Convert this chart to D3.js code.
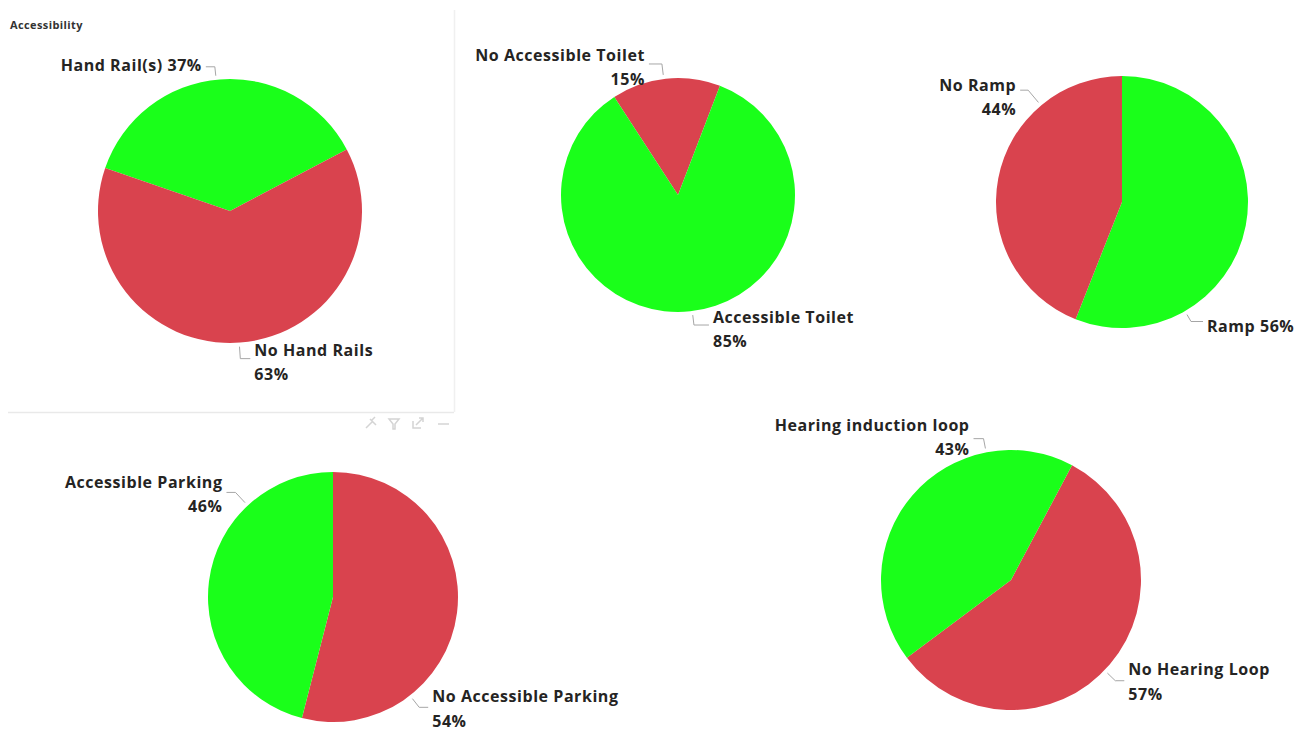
<!DOCTYPE html>
<html>
<head>
<meta charset="utf-8">
<script src="https://cdn.jsdelivr.net/npm/d3@7"></script>
<style>
  html, body { margin: 0; padding: 0; background: #ffffff; }
  svg { display: block; }
</style>
</head>
<body>
<svg id="chart" width="1303" height="733"></svg>
<script>
// ---------- DATA ----------
const handRailCategories = ["Hand Rail(s)", "No Hand Rails"];
const handRailValues = [37, 63];

const toiletCategories = ["No Accessible Toilet", "Accessible Toilet"];
const toiletValues = [15, 85];

const rampCategories = ["Ramp", "No Ramp"];
const rampValues = [56, 44];

const parkingCategories = ["No Accessible Parking", "Accessible Parking"];
const parkingValues = [54, 46];

const hearingCategories = ["No Hearing Loop", "Hearing induction loop"];
const hearingValues = [57, 43];

const chartTitle = "Accessibility";

// ---------- STYLE / LAYOUT ----------
const GREEN = "#1aff1a";
const RED = "#d9434e";
const TEXT = "#252423";
const LEADER = "#a6a6a6";
const FONT = "'Open Sans', 'Noto Sans', sans-serif";
const FS = 16;
const LS = 0.55;
const LINE_H = 24.5;

// colour per category
const colorOf = {
  "Hand Rail(s)": GREEN, "No Hand Rails": RED,
  "No Accessible Toilet": RED, "Accessible Toilet": GREEN,
  "Ramp": GREEN, "No Ramp": RED,
  "No Accessible Parking": RED, "Accessible Parking": GREEN,
  "No Hearing Loop": RED, "Hearing induction loop": GREEN
};

// layout per pie: centre, radius, start angle (deg), label leaders
// label: angle (deg, clockwise from top), ext radial segment, h horizontal, side, oneLine, dy
const pies = [
  { cats: handRailCategories, vals: handRailValues, cx: 230, cy: 211, r: 132, start: -71,
    labels: {
      "Hand Rail(s)": { angle: -6, ext: 9, h: 9, side: -1, oneLine: true, dy: -1 },
      "No Hand Rails": { angle: 176, ext: 12, h: 10, side: 1, oneLine: false, dy: 4 }
    } },
  { cats: toiletCategories, vals: toiletValues, cx: 678, cy: 195, r: 117, start: -33,
    labels: {
      "No Accessible Toilet": { angle: -7, ext: 11, h: 13, side: -1, oneLine: false, dy: 3.5 },
      "Accessible Toilet": { angle: 173, ext: 10, h: 15, side: 1, oneLine: false, dy: 4.5 }
    } },
  { cats: rampCategories, vals: rampValues, cx: 1122, cy: 202, r: 126, start: 0,
    labels: {
      "Ramp": { angle: 150, ext: 8, h: 12, side: 1, oneLine: true, dy: 5 },
      "No Ramp": { angle: -40, ext: 16, h: 8, side: -1, oneLine: false, dy: 7 }
    } },
  { cats: parkingCategories, vals: parkingValues, cx: 333, cy: 597, r: 125, start: 0,
    labels: {
      "No Accessible Parking": { angle: 142, ext: 11, h: 9, side: 1, oneLine: false, dy: 1.5 },
      "Accessible Parking": { angle: -43, ext: 14, h: 9, side: -1, oneLine: false, dy: 2 }
    } },
  { cats: hearingCategories, vals: hearingValues, cx: 1011, cy: 580, r: 130, start: 28,
    labels: {
      "No Hearing Loop": { angle: 134, ext: 11, h: 9, side: 1, oneLine: false, dy: 1 },
      "Hearing induction loop": { angle: -11, ext: 10, h: 10, side: -1, oneLine: false, dy: -1.5 }
    } }
];

// ---------- DRAW ----------
const svg = d3.select("#chart");

// first visual container frame (left-top card)
const frame = svg.append("g");
frame.append("line").attr("x1", 8).attr("y1", 412.5).attr("x2", 454).attr("y2", 412.5)
  .attr("stroke", "#e9e9e9").attr("stroke-width", 1.5);
frame.append("line").attr("x1", 454.5).attr("y1", 10).attr("x2", 454.5).attr("y2", 412)
  .attr("stroke", "#f0f0f0").attr("stroke-width", 1.5);

// faint header icons under the card
const icons = svg.append("g").attr("stroke", "#d4d4d4").attr("fill", "none").attr("stroke-width", 1.5);
icons.append("path").attr("d", "M366,428 L372,422 M370,419 L376,425 M372,420 L375,417");
icons.append("path").attr("d", "M389,419 L399,419 L395,424 L395,429 L393,429 L393,424 Z");
icons.append("path").attr("d", "M413,421 L413,428 L421,428 M416,425 L423,418 M419,418 L423,418 L423,422");
icons.append("path").attr("d", "M438,424 L449,424");

svg.append("text")
  .attr("x", 10).attr("y", 29)
  .attr("font-family", FONT).attr("font-size", 11).attr("font-weight", 700)
  .attr("letter-spacing", 0.4)
  .attr("fill", "#333")
  .text(chartTitle);

const rad = d => d * Math.PI / 180;

pies.forEach(p => {
  const data = p.cats.map((c, i) => ({ cat: c, val: p.vals[i] }));
  const pie = d3.pie().sort(null).value(d => d.val)
    .startAngle(rad(p.start)).endAngle(rad(p.start) + 2 * Math.PI);
  const arc = d3.arc().innerRadius(0).outerRadius(p.r);
  const total = d3.sum(p.vals);

  const g = svg.append("g").attr("transform", `translate(${p.cx},${p.cy})`);
  g.selectAll("path.slice").data(pie(data)).join("path")
    .attr("class", "slice")
    .attr("d", arc)
    .attr("fill", d => colorOf[d.data.cat]);

  // labels with leader lines
  data.forEach(d => {
    const L = p.labels[d.cat];
    const a = rad(L.angle);
    const pt = rr => [Math.sin(a) * rr, -Math.cos(a) * rr];
    const p0 = pt(p.r + 4);
    const p1 = pt(p.r + 4 + L.ext);
    const p2 = [p1[0] + L.side * L.h, p1[1]];
    g.append("path")
      .attr("d", d3.line()([p0, p1, p2]))
      .attr("fill", "none").attr("stroke", LEADER).attr("stroke-width", 1);

    const pct = Math.round(d.val / total * 100) + "%";
    const lines = L.oneLine ? [d.cat + " " + pct] : [d.cat, pct];
    const tx = p2[0] + L.side * 4;
    const blockC = p2[1] + L.dy;
    const firstC = blockC - (lines.length - 1) * LINE_H / 2;
    const t = g.append("text")
      .attr("font-family", FONT).attr("font-size", FS).attr("font-weight", 700)
      .attr("letter-spacing", LS)
      .attr("fill", TEXT)
      .attr("text-anchor", L.side < 0 ? "end" : "start");
    lines.forEach((ln, i) => {
      t.append("tspan").attr("x", tx).attr("y", firstC + i * LINE_H)
        .attr("dy", "0.35em").text(ln);
    });
  });
});
</script>
</body>
</html>
